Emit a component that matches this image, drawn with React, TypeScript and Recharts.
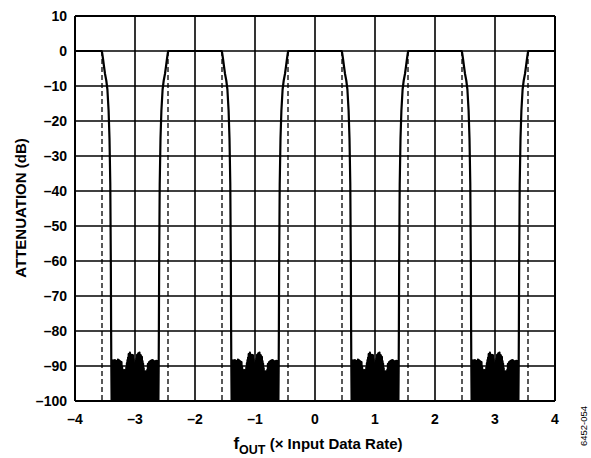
import React from 'react';
import { LineChart, Line, XAxis, YAxis, CartesianGrid, ReferenceLine } from 'recharts';

const X_TICKS = [-4, -3, -2, -1, 0, 1, 2, 3, 4];
const Y_TICKS = [10, 0, -10, -20, -30, -40, -50, -60, -70, -80, -90, -100];
const STOPBAND_CENTERS = [-3, -1, 1, 3];
const DASHED_FREQS = [-3.55, -2.45, -1.55, -0.45, 0.45, 1.55, 2.45, 3.55];

// transition band: offset from stopband centre (left side) and attenuation
const EDGE_OFFSETS = [-0.556, -0.548, -0.535, -0.52, -0.5, -0.478, -0.46, -0.44, -0.425, -0.412, -0.403, -0.398];
const EDGE_DB = [0, -0.5, -2, -4, -6.5, -8.5, -11, -17, -25, -38, -60, -80];

// stopband noise peaks, read at 0.01 spacing from offset -0.395 to +0.395
const NOISE_START = -0.395;
const NOISE_STEP = 0.01;
const NOISE_FLOOR = -100;
const NOISE_PEAKS = [
  -89.5, -88.6, -90.2, -88.4, -91.6, -88.8, -88.3, -89.6, -88.6, -93.0, -88.5, -88.2, -89.4, -88.4, -90.3, -88.7, -90.8, -88.9, -90.2,
  -91.0, -92.3, -93.5, -91.2, -92.6, -92.2, -90.4,
  -89.2, -88.3, -87.6, -86.6, -87.7, -86.2, -87.4, -88.3, -86.8, -87.9, -86.9, -88.1, -89.2, -89.8,
  -89.5, -88.5, -87.9, -86.8, -88.0, -86.4, -87.3, -86.2, -87.4, -86.9, -88.0, -87.4, -88.6, -89.3,
  -90.6, -92.2, -93.0, -91.5, -92.4, -93.1, -91.1,
  -89.4, -90.6, -88.9, -90.1, -88.6, -89.7, -88.4, -89.5, -88.3, -92.5, -88.6, -89.6, -88.7, -90.3, -88.5, -89.5, -88.7, -90.9, -89.5,
];

function buildData() {
  const pts: { f: number; db: number }[] = [{ f: -4, db: 0 }];
  STOPBAND_CENTERS.forEach((c) => {
    EDGE_OFFSETS.forEach((o, i) => pts.push({ f: c + o, db: EDGE_DB[i] }));
    NOISE_PEAKS.forEach((p, i) => {
      const o = NOISE_START + i * NOISE_STEP;
      pts.push({ f: c + o, db: p });
      if (i < NOISE_PEAKS.length - 1) pts.push({ f: c + o + NOISE_STEP / 2, db: NOISE_FLOOR });
    });
    for (let i = EDGE_OFFSETS.length - 1; i >= 0; i--) pts.push({ f: c - EDGE_OFFSETS[i], db: EDGE_DB[i] });
  });
  pts.push({ f: 4, db: 0 });
  return pts;
}

const data = buildData();
const FONT = '"Liberation Sans", Arial, sans-serif';
const fmt = (v: number) => (v < 0 ? '\u2013' + Math.abs(v) : String(v));
const tickStyle = { fill: '#000', fontSize: 14, fontWeight: 'bold', fontFamily: FONT };

export default function App() {
  return (
    <div style={{ position: 'absolute', left: 0, top: 0, width: 591, height: 458, background: '#fff' }}>
      <LineChart width={591} height={458} data={data} margin={{ top: 16, right: 36, bottom: 27, left: 0 }}>
        <CartesianGrid stroke="#000" strokeWidth={1.6} strokeOpacity={1} />
        <XAxis
          dataKey="f"
          type="number"
          domain={[-4, 4]}
          ticks={X_TICKS}
          tickFormatter={fmt}
          tick={tickStyle}
          tickLine={false}
          tickSize={0}
          tickMargin={13}
          axisLine={{ stroke: '#000', strokeWidth: 2 }}
          height={30}
          allowDataOverflow
        />
        <YAxis
          type="number"
          domain={[-100, 10]}
          ticks={Y_TICKS}
          tickFormatter={fmt}
          tick={tickStyle}
          tickLine={false}
          tickSize={0}
          tickMargin={8}
          axisLine={{ stroke: '#000', strokeWidth: 2 }}
          width={75}
          allowDataOverflow
        />
        <ReferenceLine y={10} stroke="#000" strokeWidth={2} />
        <ReferenceLine x={4} stroke="#000" strokeWidth={2} />
        {DASHED_FREQS.map((f) => (
          <ReferenceLine
            key={f}
            segment={[{ x: f, y: 0 }, { x: f, y: -100 }]}
            stroke="#000"
            strokeWidth={1.3}
            strokeDasharray="5 3"
          />
        ))}
        <Line
          dataKey="db"
          stroke="#000"
          strokeWidth={2.2}
          strokeLinejoin="round"
          dot={false}
          isAnimationActive={false}
        />
      </LineChart>
      <svg width={591} height={458} style={{ position: 'absolute', left: 0, top: 0, pointerEvents: 'none' }}>
        <text
          transform="translate(26,208) rotate(-90)"
          textAnchor="middle"
          fontFamily={FONT}
          fontWeight="bold"
          fontSize={15}
          fill="#000"
        >
          ATTENUATION (dB)
        </text>
        <text x={318} y={449} textAnchor="middle" fontFamily={FONT} fontWeight="bold" fill="#000">
          <tspan fontSize={17}>f</tspan>
          <tspan fontSize={12.5} dy={5}>OUT</tspan>
          <tspan fontSize={15} dy={-5}> (× Input Data Rate)</tspan>
        </text>
        <text
          transform="translate(587,426) rotate(-90)"
          textAnchor="middle"
          fontFamily={FONT}
          fontSize={9.5}
          fill="#000"
        >
          6452-054
        </text>
      </svg>
    </div>
  );
}
